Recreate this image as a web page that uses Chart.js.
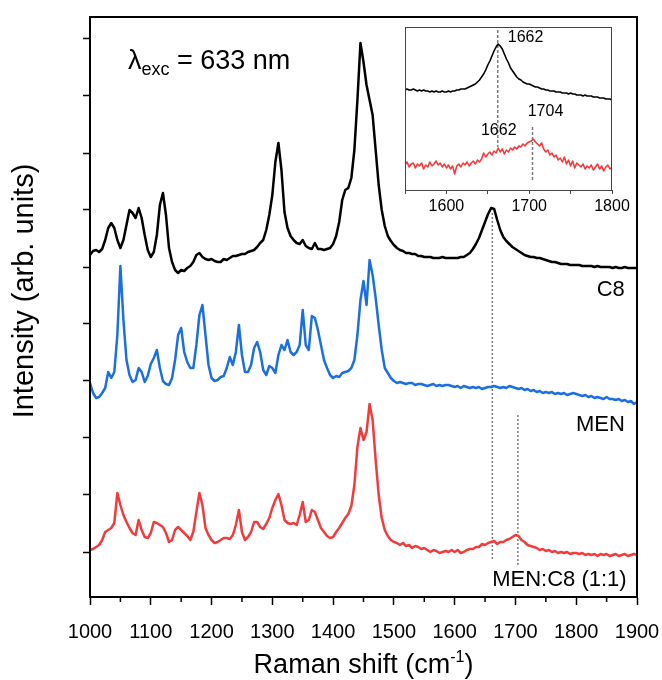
<!DOCTYPE html>
<html lang="en">
<head>
<meta charset="UTF-8" />
<title>Raman spectra: C8, MEN, MEN:C8</title>
<script src="https://cdn.jsdelivr.net/npm/chart.js"></script>
<style>
  body { margin: 0; background: #fff; }
  #wrap { position: relative; width: 662px; height: 680px; }
  #main { position: absolute; left: 0; top: 0; }
  #inset { position: absolute; left: 395px; top: 20px; }
</style>
</head>
<body>
<div id="wrap">
  <canvas id="main" width="662" height="680"></canvas>
  <canvas id="inset" width="240" height="195"></canvas>
</div>

<script>
const FONT = "'Liberation Sans', Arial, Helvetica, sans-serif";

// Raman shift axis of the spectra (cm-1), one point every 5 cm-1
const shift = [];
for (let s = 1000; s <= 1900; s += 5) shift.push(s);

// stacked spectra, offset intensities (arb. units)
const c8 = [
  342,346,347,345,348,357,369,374,369,357,
  349,357,372,387,384,379,389,379,362,347,
  340,345,362,392,404,382,349,335,327,324,
  327,326,329,331,335,342,344,340,338,337,
  338,336,335,335,338,337,339,341,341,342,
  343,343,345,346,347,350,354,357,367,382,
  402,435,454,427,385,369,361,357,354,353,
  357,351,349,348,354,348,348,347,348,349,
  353,361,375,397,407,409,419,447,497,554,
  535,512,497,482,447,412,387,371,361,356,
  352,349,347,346,344,344,343,343,341,341,
  340,340,340,339,339,339,340,339,339,339,
  339,339,340,340,342,344,348,353,359,367,
  375,383,389,388,377,367,360,356,353,350,
  348,346,344,342,341,340,340,339,339,338,
  337,336,335,335,334,333,333,333,332,332,
  332,332,331,331,331,331,330,331,330,330,
  330,330,329,330,329,329,330,329,329,329,
  329
];
const men = [
  214,204,199,200,204,209,225,219,225,262,
  331,277,237,222,215,217,229,225,215,221,
  233,239,247,229,216,213,212,219,237,262,
  269,245,235,229,229,252,282,292,262,232,
  219,216,217,220,221,229,240,232,245,272,
  242,225,225,232,249,255,245,227,222,231,
  229,224,242,252,247,257,245,242,245,252,
  287,252,247,281,279,267,252,237,229,222,
  219,221,220,224,225,226,229,237,262,297,
  316,292,337,322,299,272,247,229,224,219,
  216,214,215,214,213,214,214,212,213,213,
  212,211,212,213,211,212,211,212,212,211,
  210,211,209,211,210,209,210,209,210,208,
  209,210,210,211,210,209,210,209,211,210,
  209,208,209,207,208,206,207,205,206,204,
  205,204,205,203,204,203,204,202,203,204,
  203,202,201,202,200,201,199,200,199,198,
  200,198,198,197,198,196,197,195,196,193,
  195
];
const menC8 = [
  47,48,50,52,57,65,67,69,74,104,
  92,82,75,69,64,62,77,67,60,59,
  64,75,74,72,70,64,55,57,67,70,
  67,64,61,57,65,85,104,92,69,62,
  57,54,55,57,59,59,58,62,72,87,
  65,57,60,65,75,75,70,68,73,79,
  89,97,103,92,77,74,73,74,72,82,
  95,75,77,87,85,77,69,65,61,59,
  60,65,69,74,79,83,91,112,150,169,
  157,165,193,177,137,102,79,67,61,57,
  55,54,52,54,51,52,49,51,50,48,
  49,47,45,47,46,44,45,46,45,47,
  45,47,44,45,47,48,48,50,50,53,
  52,54,55,56,53,55,55,57,58,60,
  62,61,57,55,52,51,50,49,47,48,
  46,47,45,46,44,45,44,45,43,44,
  44,43,44,42,43,42,43,41,43,42,
  43,41,42,43,41,42,43,41,42,43,
  42
];

// zoom on the 1550-1800 cm-1 region, every 2.5 cm-1
const insetShift = [];
for (let s = 1550; s <= 1800; s += 2.5) insetShift.push(s);
const insetC8 = [
  100,101,100,100,101,100,99,100,99,100,
  99,99,98,99,98,99,98,98,99,98,
  98,99,98,99,99,100,100,101,101,101,
  102,103,104,105,106,108,110,113,116,120,
  125,129,134,139,143,146,144,141,136,131,
  127,122,119,116,113,111,110,108,107,106,
  106,105,104,103,103,102,101,101,100,100,
  99,99,99,98,98,98,97,97,97,96,
  97,96,96,95,95,95,94,95,94,94,
  94,93,93,93,92,92,92,91,91,91,
  90
];
const insetMenC8 = [
  25,28,23,26,27,22,26,24,27,21,
  25,23,28,24,26,29,25,27,23,26,
  22,25,21,24,16,24,26,23,27,25,
  28,24,27,29,26,30,28,31,37,33,
  36,38,35,39,37,42,38,41,36,40,
  38,42,40,43,41,44,43,46,44,47,
  48,49,51,48,46,44,47,41,38,40,
  35,37,33,35,30,32,28,33,26,30,
  24,29,22,27,25,23,26,21,24,22,
  25,20,23,26,21,24,19,23,25,21,
  23
];

// unlabeled intensity ticks
const yTicks = [45, 103, 160, 216, 274, 330, 388, 444, 502, 559];

// band markers (cm-1) and the span of their dotted guides
const bandPos = [1662, 1704];
const bandTop = [384, 182];
const bandBottom = [37, 32];
const insetBandTop = [160, 63];
const insetBandBottom = [43, 10];

// trace names, anchored at their right end
const traceNames = ["C8", "MEN", "MEN:C8 (1:1)"];
const traceNameX = [1880, 1880, 1883];
const traceNameY = [307, 172, 17];

const colors = { c8: "#000000", men: "#1b6fdf", mix: "#f03c3c", band: "#7a7a7a" };

const pts = (xs, ys) => xs.map((x, i) => ({ x, y: ys[i] }));
const trace = (data, color, width) => ({
  data, borderColor: color, borderWidth: width, borderJoinStyle: "round", borderCapStyle: "round",
  pointRadius: 0, tension: 0, fill: false
});
const guide = (x, top, bottom, dash, width) => ({
  data: [{ x, y: top }, { x, y: bottom }],
  borderColor: colors.band, borderWidth: width, borderDash: dash, pointRadius: 0
});

const mainDecor = {
  id: "mainDecor",
  afterDraw(chart) {
    const { ctx, chartArea: a, scales: { x, y } } = chart;
    ctx.save();
    ctx.strokeStyle = "#000";
    ctx.lineWidth = 2;
    ctx.strokeRect(a.left, a.top, a.right - a.left, a.bottom - a.top);

    // minor ticks between the labelled ones
    ctx.lineWidth = 1.5;
    for (let v = 1050; v < 1900; v += 100) {
      const px = x.getPixelForValue(v);
      ctx.beginPath();
      ctx.moveTo(px, a.bottom);
      ctx.lineTo(px, a.bottom + 5);
      ctx.stroke();
    }

    ctx.fillStyle = "#000";
    ctx.textAlign = "right";
    ctx.textBaseline = "middle";
    ctx.font = `22px ${FONT}`;
    traceNames.forEach((t, i) => {
      ctx.fillText(t, x.getPixelForValue(traceNameX[i]), y.getPixelForValue(traceNameY[i]));
    });

    // excitation wavelength
    ctx.textAlign = "left";
    ctx.textBaseline = "alphabetic";
    let lx = x.getPixelForValue(1062.5);
    const ly = y.getPixelForValue(528);
    ctx.font = `27px ${FONT}`;
    ctx.fillText("λ", lx, ly);
    lx += ctx.measureText("λ").width;
    ctx.font = `18px ${FONT}`;
    ctx.fillText("exc", lx, ly + 6);
    lx += ctx.measureText("exc").width;
    ctx.font = `27px ${FONT}`;
    ctx.fillText(" = 633 nm", lx, ly);

    // x title with superscript
    const mainTxt = "Raman shift (cm", supTxt = "-1", endTxt = ")";
    ctx.font = `27px ${FONT}`;
    const w1 = ctx.measureText(mainTxt).width, w3 = ctx.measureText(endTxt).width;
    ctx.font = `16px ${FONT}`;
    const w2 = ctx.measureText(supTxt).width;
    let tx = (a.left + a.right) / 2 - (w1 + w2 + w3) / 2;
    const ty = 673;
    ctx.font = `27px ${FONT}`;
    ctx.fillText(mainTxt, tx, ty);
    tx += w1;
    ctx.font = `16px ${FONT}`;
    ctx.fillText(supTxt, tx, ty - 11);
    tx += w2;
    ctx.font = `27px ${FONT}`;
    ctx.fillText(endTxt, tx, ty);

    // y title
    ctx.translate(25, 291);
    ctx.rotate(-Math.PI / 2);
    ctx.textAlign = "center";
    ctx.textBaseline = "middle";
    ctx.font = `29px ${FONT}`;
    ctx.fillText("Intensity (arb. units)", 0, 0);
    ctx.restore();
  }
};

new Chart(document.getElementById("main"), {
  type: "line",
  data: {
    datasets: [
      trace(pts(shift, c8), colors.c8, 2.5),
      trace(pts(shift, men), colors.men, 2.5),
      trace(pts(shift, menC8), colors.mix, 2.5),
      guide(bandPos[0], bandTop[0], bandBottom[0], [2, 2], 1.5),
      guide(bandPos[1], bandTop[1], bandBottom[1], [2, 2], 1.5)
    ]
  },
  options: {
    responsive: false,
    animation: false,
    events: [],
    layout: { padding: { left: 0, right: 25, top: 17, bottom: 0 } },
    plugins: { legend: { display: false }, tooltip: { enabled: false } },
    scales: {
      x: {
        type: "linear", min: 1000, max: 1900,
        ticks: {
          stepSize: 100, maxRotation: 0, color: "#000", padding: 2,
          font: { family: FONT, size: 20, lineHeight: 2.5 },
          callback: v => String(v)
        },
        grid: { drawOnChartArea: false, tickLength: 8, tickWidth: 1.5, tickColor: "#000" },
        border: { color: "#000", width: 2 },
        afterFit: s => { s.height = 83; }
      },
      y: {
        min: 0, max: 580,
        afterBuildTicks: s => { s.ticks = yTicks.map(v => ({ value: v })); },
        ticks: { display: false },
        grid: { drawOnChartArea: false, tickLength: 7, tickWidth: 1.5, tickColor: "#000" },
        border: { color: "#000", width: 2 },
        afterFit: s => { s.width = 90; }
      }
    }
  },
  plugins: [mainDecor]
});

const insetDecor = {
  id: "insetDecor",
  beforeDraw(chart) {
    const { ctx, chartArea: a } = chart;
    ctx.save();
    ctx.fillStyle = "#fff";
    ctx.fillRect(a.left, a.top, a.right - a.left, a.bottom - a.top);
    ctx.restore();
  },
  afterDraw(chart) {
    const { ctx, chartArea: a, scales: { x, y } } = chart;
    ctx.save();
    ctx.strokeStyle = "#444";
    ctx.lineWidth = 1;
    ctx.strokeRect(a.left + 0.5, a.top + 0.5, a.right - a.left - 1, a.bottom - a.top);
    ctx.fillStyle = "#000";
    ctx.font = `16px ${FONT}`;
    ctx.textBaseline = "middle";
    ctx.textAlign = "left";
    ctx.fillText("1662", x.getPixelForValue(bandPos[0]) + 10, y.getPixelForValue(152));
    ctx.textAlign = "center";
    ctx.fillText("1704", x.getPixelForValue(bandPos[1]) + 13, y.getPixelForValue(78));
    ctx.fillText("1662", x.getPixelForValue(bandPos[0]) + 1, y.getPixelForValue(59));
    ctx.restore();
  }
};

new Chart(document.getElementById("inset"), {
  type: "line",
  data: {
    datasets: [
      trace(pts(insetShift, insetC8), colors.c8, 1.6),
      trace(pts(insetShift, insetMenC8), colors.mix, 1.6),
      guide(bandPos[0], insetBandTop[0], insetBandBottom[0], [3, 2], 1.5),
      guide(bandPos[1], insetBandTop[1], insetBandBottom[1], [3, 2], 1.5)
    ]
  },
  options: {
    responsive: false,
    animation: false,
    events: [],
    layout: { padding: { left: 10, right: 23, top: 7, bottom: 0 } },
    plugins: { legend: { display: false }, tooltip: { enabled: false } },
    scales: {
      x: {
        type: "linear", min: 1550, max: 1800,
        ticks: {
          stepSize: 50, maxRotation: 0, autoSkip: false, color: "#000", padding: 3,
          font: { family: FONT, size: 16 },
          callback: v => (v % 100 === 0 ? String(v) : "")
        },
        grid: { drawOnChartArea: false, tickLength: 4, tickColor: "#444" },
        border: { color: "#444", width: 1 },
        afterFit: s => { s.height = 25; }
      },
      y: { display: false, min: 0, max: 163 }
    }
  },
  plugins: [insetDecor]
});
</script>
</body>
</html>
